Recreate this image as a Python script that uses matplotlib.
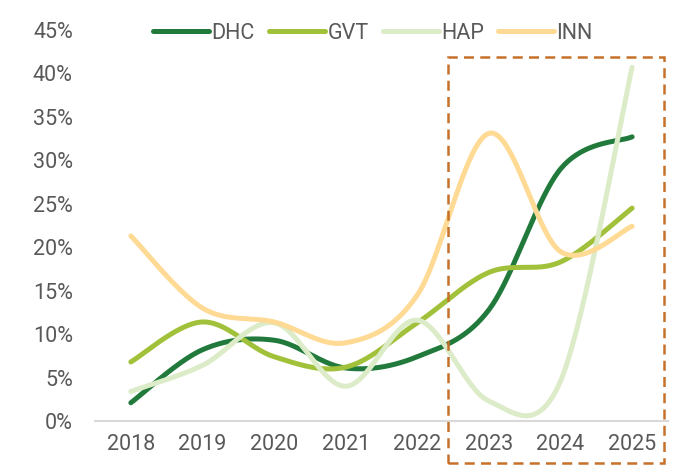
import numpy as np
import matplotlib.pyplot as plt
from matplotlib.patches import Rectangle

plt.rcParams['font.family'] = ['Roboto', 'DejaVu Sans']

years = ['2018', '2019', '2020', '2021', '2022', '2023', '2024', '2025']
dhc = [2.1, 8.2, 9.3, 6.1, 7.4, 12.8, 29.0, 32.7]
gvt = [6.8, 11.4, 7.4, 6.2, 11.3, 17.1, 18.3, 24.5]
hap = [3.4, 6.4, 11.3, 4.0, 11.6, 2.3, 4.6, 40.7]
inn = [21.3, 13.0, 11.4, 9.0, 14.5, 33.1, 19.5, 22.4]

names = ['DHC', 'GVT', 'HAP', 'INN']
colors = ['#217A3C', '#A2C13A', '#DCEBC8', '#FFDA94']


# smooth line like the spreadsheet one (bezier through the points)
def smooth(y, n=40):
    y = np.asarray(y, dtype=float) / 100
    x = np.arange(len(y), dtype=float)
    xs, ys = [], []
    for i in range(len(y) - 1):
        p0 = (x[i], y[i])
        p3 = (x[i + 1], y[i + 1])
        a = max(i - 1, 0)
        b = min(i + 2, len(y) - 1)
        p1 = (x[i] + (x[i + 1] - x[a]) / 6, y[i] + (y[i + 1] - y[a]) / 6)
        p2 = (x[i + 1] - (x[b] - x[i]) / 6, y[i + 1] - (y[b] - y[i]) / 6)
        t = np.linspace(0, 1, n)
        for k, arr in ((0, xs), (1, ys)):
            arr.extend((1 - t) ** 3 * p0[k] + 3 * (1 - t) ** 2 * t * p1[k]
                       + 3 * (1 - t) * t ** 2 * p2[k] + t ** 3 * p3[k])
    return np.array(xs), np.array(ys)


fig = plt.figure(figsize=(6.74, 4.68), dpi=100)
ax = fig.add_axes([0.141, 0.1004, 0.85, 0.8356])

for vals, name, c in zip([dhc, gvt, hap, inn], names, colors):
    sx, sy = smooth(vals)
    ax.plot(sx, sy, color=c, lw=3.6, label=name, solid_capstyle='round', zorder=3)

ax.set_xlim(-0.5, 7.5)
ax.set_ylim(0, 0.45)
ax.set_xticks(range(len(years)))
ax.set_xticklabels(years)
ax.set_yticks(np.arange(0, 0.46, 0.05))
ax.set_yticklabels(['%d%%' % v for v in range(0, 46, 5)])
ax.tick_params(length=0, labelsize=15.5, colors='#595959')
ax.tick_params(axis='x', pad=9)
ax.tick_params(axis='y', pad=16)
for s in ['top', 'right', 'left']:
    ax.spines[s].set_visible(False)
ax.spines['bottom'].set_color('#D9D9D9')
ax.spines['bottom'].set_linewidth(1.5)

# highlight box for 2023-2025
box = Rectangle((4.43, -0.048), 3.01, 0.467, fill=False, edgecolor='#C5712A',
                lw=1.8, ls=(0, (4, 2.5)), clip_on=False, zorder=4)
ax.add_patch(box)

fig.legend(loc='center', bbox_to_anchor=(373 / 674, 0.929), ncol=4, frameon=False,
           handlelength=2.6, handletextpad=0.12, columnspacing=0.65,
           fontsize=15.5, labelcolor='#595959')

fig.savefig('out.png', dpi=100)
